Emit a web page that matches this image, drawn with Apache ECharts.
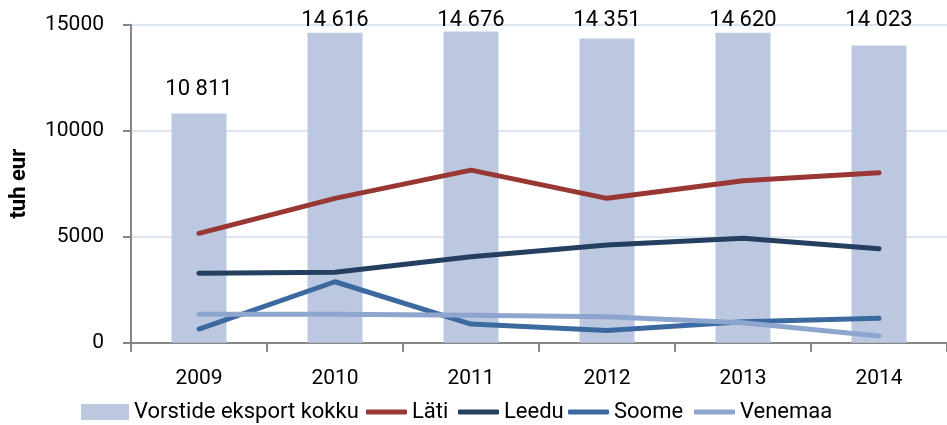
<!DOCTYPE html>
<html>
<head>
<meta charset="utf-8">
<script src="https://cdn.jsdelivr.net/npm/echarts@6/dist/echarts.min.js"></script>
<style>
html,body{margin:0;padding:0;background:#fff;}
#c{width:947px;height:425px;}
</style>
</head>
<body>
<div id="c"></div>
<script>
const categories = ['2009','2010','2011','2012','2013','2014'];
const exportTotal = [10811, 14616, 14676, 14351, 14620, 14023];
const lati = [5160, 6810, 8140, 6810, 7640, 8020];
const leedu = [3275, 3320, 4055, 4605, 4925, 4435];
const soome = [645, 2875, 880, 570, 990, 1150];
const venemaa = [1340, 1340, 1290, 1225, 945, 315];
const yTicks = [0, 5000, 10000, 15000];

const FONT = 'Roboto, sans-serif';
const labelDist = [13, 1, 0, 7, 1, 14];

function fmt(v){ return String(v).replace(/\B(?=(\d{3})+(?!\d))/g, ' '); }

const chart = echarts.init(document.getElementById('c'), null, {renderer:'canvas'});
const lineSeries = (name, data, color) => ({
  name, type:'line', data, symbol:'none', smooth:false,
  lineStyle:{color, width:5, cap:'round', join:'round'},
  itemStyle:{color}, z:3
});
const lineNames = ['Läti','Leedu','Soome','Venemaa'];
const lineColors = ['#993735','#243F60','#3C6AA0','#8EA6CE'];
const lineLegendLeft = [361, 453, 563, 689];
const LEG_TOP = 396;
const legText = {fontFamily:FONT, fontSize:22, color:'#000'};

const legends = [{
  data:['Vorstide eksport kokku'],
  left:76, top:LEG_TOP, itemWidth:48, itemHeight:16,
  icon:'rect', textStyle:legText
}].concat(lineNames.map((n,i)=>({
  data:[{name:n, icon:'roundRect', itemStyle:{color:lineColors[i]}}],
  left:lineLegendLeft[i], top:LEG_TOP, itemWidth:41, itemHeight:5,
  textStyle:legText
})));

chart.setOption({
  animation:false,
  textStyle:{fontFamily:FONT},
  grid:{left:130, top:24.7, bottom:82.3, right:-6, containLabel:false},
  legend:legends,
  xAxis:{
    type:'category', data:categories,
    axisLine:{lineStyle:{color:'#868686', width:2}},
    axisTick:{show:true, length:9, lineStyle:{color:'#868686', width:2}},
    axisLabel:{color:'#000', fontSize:21, fontFamily:FONT, margin:26}
  },
  yAxis:{
    type:'value', min:yTicks[0], max:yTicks[yTicks.length-1], interval:5000,
    name:'tuh eur', nameLocation:'middle', nameGap:101, nameRotate:90,
    nameTextStyle:{fontFamily:FONT, fontWeight:'bold', fontSize:22, color:'#000'},
    axisLine:{show:true, lineStyle:{color:'#868686', width:2}},
    axisTick:{show:true, length:8, lineStyle:{color:'#868686', width:2}},
    axisLabel:{color:'#000', fontSize:21, fontFamily:FONT, margin:27, formatter:v=>String(v)},
    splitLine:{lineStyle:{color:'#DCE6F2', width:2}}
  },
  series:[
    {
      name:'Vorstide eksport kokku', type:'bar', barWidth:55,
      data: exportTotal.map((v,i)=>({value:v, label:{distance:labelDist[i]}})),
      itemStyle:{color:'#BBC8E0'},
      label:{show:true, position:'top', fontSize:22, fontFamily:FONT, color:'#000',
        formatter:p=>fmt(p.value)},
      z:2
    },
    lineSeries(lineNames[0], lati, lineColors[0]),
    lineSeries(lineNames[1], leedu, lineColors[1]),
    lineSeries(lineNames[2], soome, lineColors[2]),
    lineSeries(lineNames[3], venemaa, lineColors[3])
  ]
});
</script>
</body>
</html>
